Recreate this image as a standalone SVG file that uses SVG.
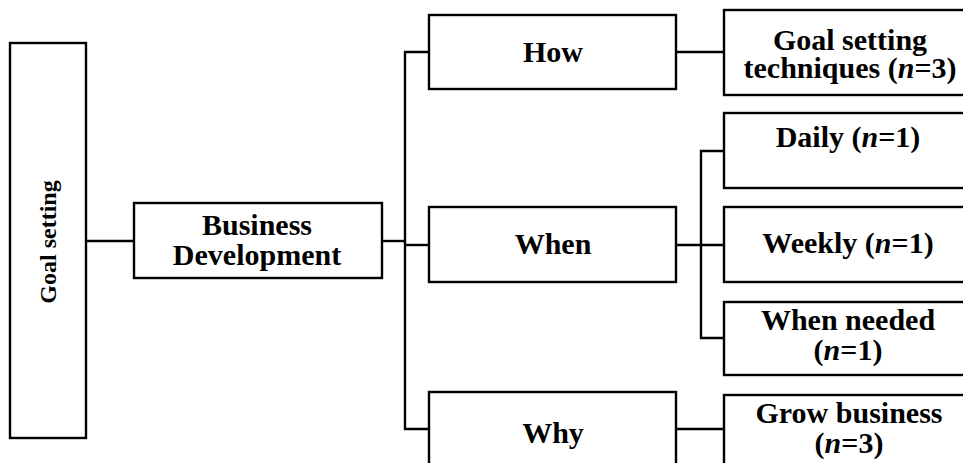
<svg xmlns="http://www.w3.org/2000/svg" width="963" height="463" viewBox="0 0 963 463">
  <style>
    .box { fill: #ffffff; stroke: #000000; stroke-width: 2.4; }
    .link { fill: none; stroke: #000000; stroke-width: 2.4; }
    .lbl { font-family: "Liberation Serif", "Times New Roman", serif; font-weight: bold; font-size: 30px; fill: #000000; text-anchor: middle; }
    .it { font-style: italic; }
  </style>
  <rect width="963" height="463" fill="#ffffff"/>

  <g id="connectors">
    <path class="link" d="M86,241 H134"/>
    <path class="link" d="M382,241 H405"/>
    <path class="link" d="M429,52 H405 V429 H429"/>
    <path class="link" d="M405,245 H429"/>
    <path class="link" d="M676,52 H724"/>
    <path class="link" d="M676,245 H724"/>
    <path class="link" d="M724,151 H701 V338 H724"/>
    <path class="link" d="M676,429 H724"/>
  </g>

  <g id="goal-setting">
    <rect class="box" x="10" y="43" width="76" height="395"/>
    <text class="lbl" style="font-size:24px" transform="translate(56,242) rotate(-90)">Goal setting</text>
  </g>

  <g id="business-development">
    <rect class="box" x="134" y="203" width="248" height="75"/>
    <text class="lbl" x="257" y="235">Business</text>
    <text class="lbl" x="257" y="265">Development</text>
  </g>

  <g id="how">
    <rect class="box" x="429" y="15" width="247" height="74"/>
    <text class="lbl" x="553" y="62">How</text>
  </g>

  <g id="when">
    <rect class="box" x="429" y="207" width="247" height="75"/>
    <text class="lbl" x="553" y="254">When</text>
  </g>

  <g id="why">
    <rect class="box" x="429" y="392" width="247" height="100"/>
    <text class="lbl" x="553" y="443">Why</text>
  </g>

  <g id="goal-setting-techniques">
    <rect class="box" x="724" y="10" width="260" height="85"/>
    <text class="lbl" x="850" y="50">Goal setting</text>
    <text class="lbl" x="850" y="78">techniques (<tspan class="it">n</tspan>=3)</text>
  </g>

  <g id="daily">
    <rect class="box" x="724" y="113" width="260" height="75"/>
    <text class="lbl" x="848" y="147">Daily (<tspan class="it">n</tspan>=1)</text>
  </g>

  <g id="weekly">
    <rect class="box" x="724" y="207" width="260" height="75"/>
    <text class="lbl" x="848" y="253">Weekly (<tspan class="it">n</tspan>=1)</text>
  </g>

  <g id="when-needed">
    <rect class="box" x="724" y="302" width="260" height="73"/>
    <text class="lbl" x="848" y="330">When needed</text>
    <text class="lbl" x="848" y="360">(<tspan class="it">n</tspan>=1)</text>
  </g>

  <g id="grow-business">
    <rect class="box" x="724" y="395" width="260" height="100"/>
    <text class="lbl" x="849" y="423">Grow business</text>
    <text class="lbl" x="849" y="453">(<tspan class="it">n</tspan>=3)</text>
  </g>
</svg>
